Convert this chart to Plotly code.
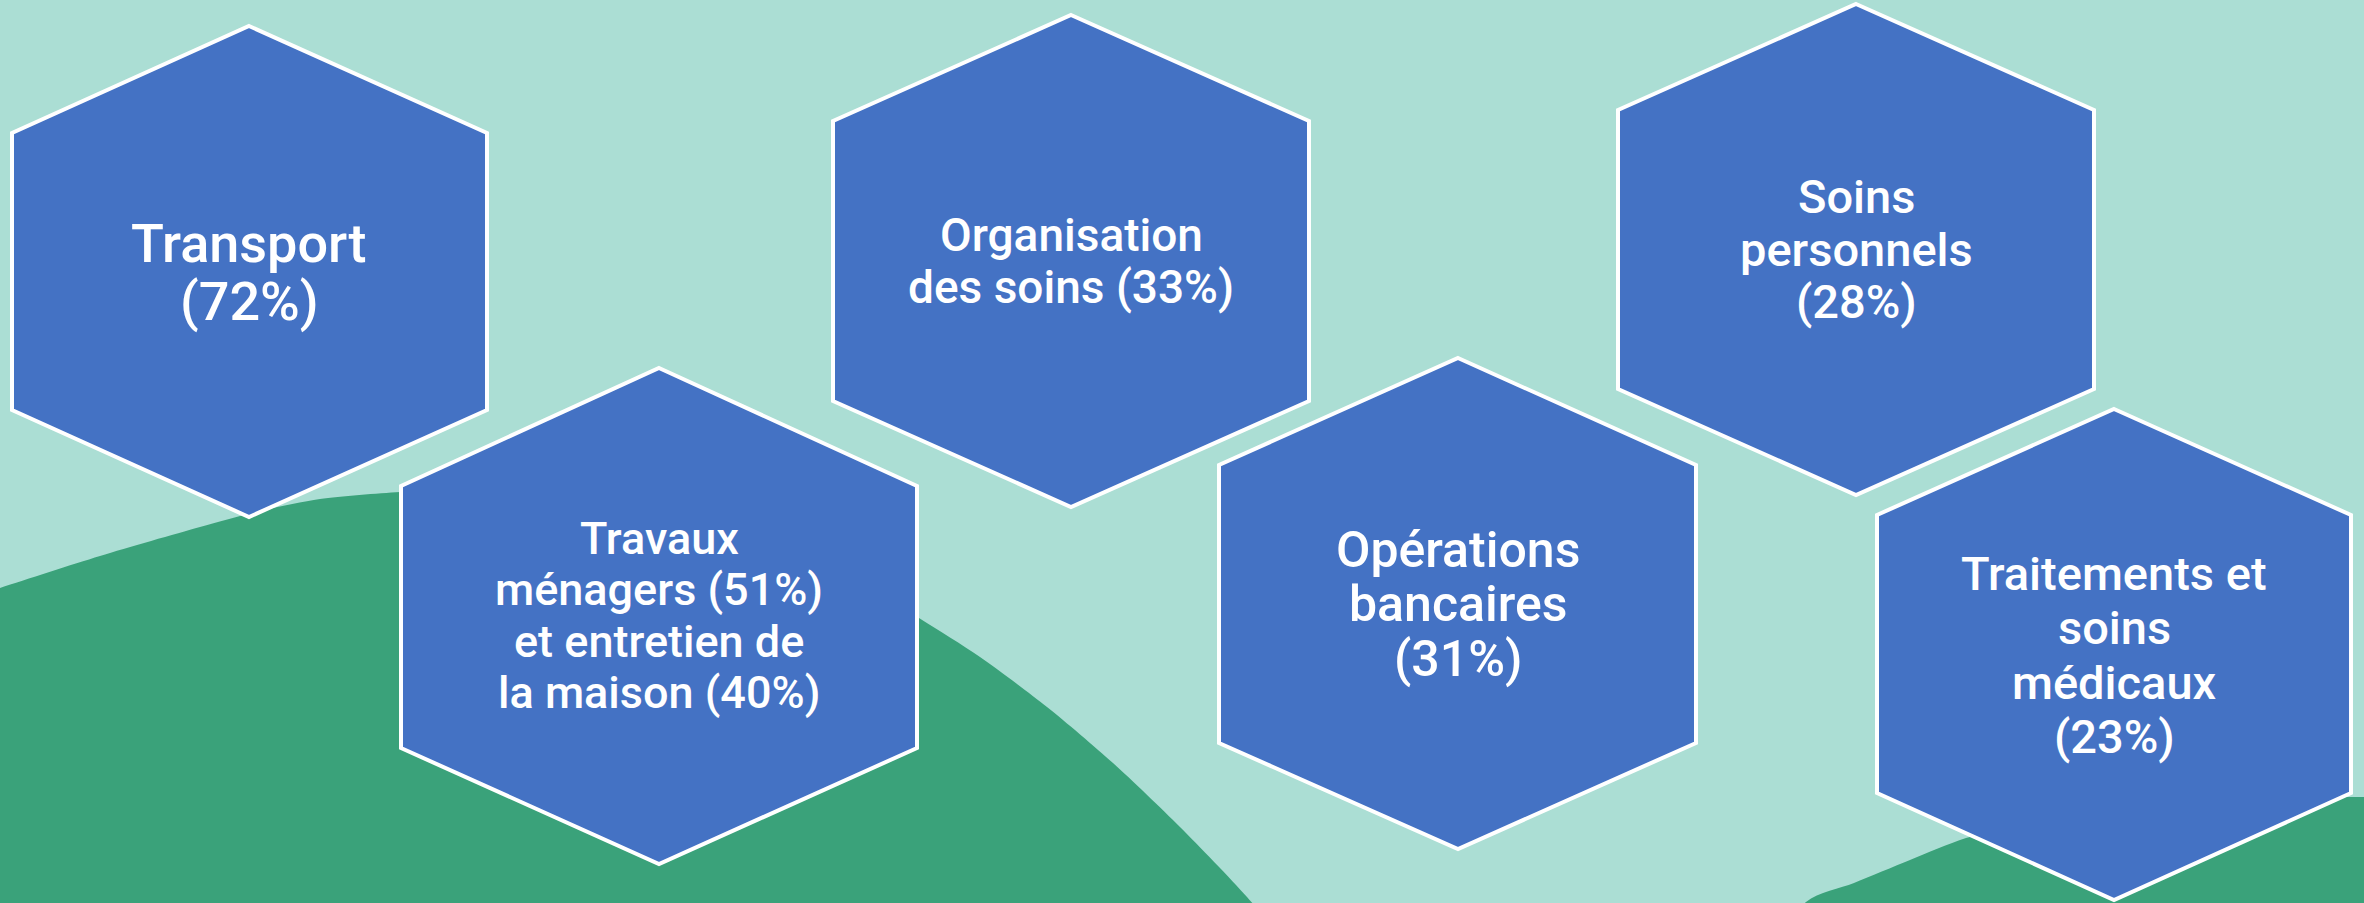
import plotly.graph_objects as go

# ---------------- data ----------------
categories = [
    "Transport",
    "Travaux ménagers",
    "Entretien de la maison",
    "Organisation des soins",
    "Opérations bancaires",
    "Soins personnels",
    "Traitements et soins médicaux",
]
percentages = [72, 51, 40, 33, 31, 28, 23]
pct = dict(zip(categories, percentages))

# text lines shown in each hexagon (built from the values above)
hex_lines = [
    ["Transport", f"({pct['Transport']}%)"],
    ["Travaux", f"ménagers ({pct['Travaux ménagers']}%)", "et entretien de",
     f"la maison ({pct['Entretien de la maison']}%)"],
    ["Organisation", f"des soins ({pct['Organisation des soins']}%)"],
    ["Opérations", "bancaires", f"({pct['Opérations bancaires']}%)"],
    ["Soins", "personnels", f"({pct['Soins personnels']}%)"],
    ["Traitements et", "soins", "médicaux", f"({pct['Traitements et soins médicaux']}%)"],
]

# ---------------- layout (pixels) ----------------
W, H = 2364, 903
# hexagon geometry: center x, left, right, top, upper shoulder, lower shoulder, bottom
hex_geom = [
    (249, 12, 487, 26, 133, 410, 517),
    (659, 401, 917, 368, 486, 748, 864),
    (1071, 833, 1309, 15, 121, 401, 507),
    (1458, 1219, 1696, 358, 465, 743, 849),
    (1856, 1618, 2094, 4, 110, 389, 495),
    (2114, 1877, 2351, 409, 515, 793, 900),
]
# baseline of the first text line, line pitch, font size
text_geom = [
    (262, 58, 54),
    (554, 51.4, 45),
    (251, 52, 46),
    (567, 54.5, 50),
    (213, 52.5, 47),
    (590, 54.4, 47),
]

BG = "#ABDED4"
GREEN = "#3AA27A"
BLUE = "#4472C4"

hill1_x = [-80, -80, 0, 100, 200, 260, 320, 400, 480, 600, 720, 830, 919, 980, 1047, 1113, 1180, 1247, 1290, 1310]
hill1_y = [1000, 615, 588, 556, 527, 511, 499, 492, 489, 494, 518, 563, 618, 657, 707, 763, 827, 897, 950, 1000]
hill2_x = [1740, 1806, 1854, 1910, 1966, 2060, 2160, 2260, 2364, 2430, 2430]
hill2_y = [1000, 902, 883, 860, 838, 815, 803, 798, 797, 797, 1000]

fig = go.Figure()
for hx, hy in [(hill1_x, hill1_y), (hill2_x, hill2_y)]:
    fig.add_trace(go.Scatter(
        x=hx, y=hy, mode="lines", fill="toself", fillcolor=GREEN,
        line=dict(color=GREEN, width=0, shape="spline", smoothing=0.8),
        hoverinfo="skip", showlegend=False,
    ))

shapes = []
annotations = []
for (cx, l, r, t, u, lo, b), lines, (base0, pitch, fs) in zip(hex_geom, hex_lines, text_geom):
    path = (f"M {cx},{t} L {r},{u} L {r},{lo} L {cx},{b} "
            f"L {l},{lo} L {l},{u} Z")
    shapes.append(dict(type="path", path=path, xref="x", yref="y",
                       fillcolor=BLUE, line=dict(color="white", width=4),
                       layer="above"))
    for i, txt in enumerate(lines):
        base = base0 + i * pitch
        annotations.append(dict(
            x=cx, y=base - 0.35 * fs, xref="x", yref="y", text=txt,
            showarrow=False, xanchor="center", yanchor="middle",
            font=dict(family="Roboto", size=fs, color="white", weight=500),
        ))

fig.update_layout(
    width=W, height=H,
    margin=dict(l=0, r=0, t=0, b=0),
    paper_bgcolor=BG, plot_bgcolor=BG,
    xaxis=dict(range=[0, W], visible=False, fixedrange=True),
    yaxis=dict(range=[H, 0], visible=False, fixedrange=True),
    shapes=shapes, annotations=annotations, showlegend=False,
)

fig.write_html(
    "out.html",
    config={"displayModeBar": False},
    post_script="document.body.style.margin='0';document.body.style.overflow='hidden';",
)
